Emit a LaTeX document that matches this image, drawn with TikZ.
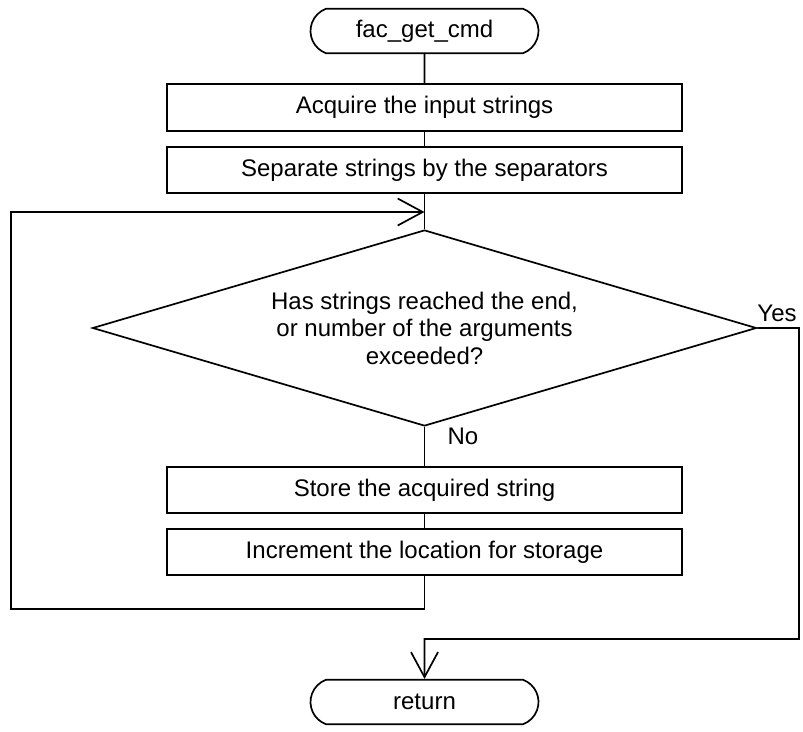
\documentclass[tikz,border=0pt]{standalone}
\usepackage{fontspec}
\setmainfont{Liberation Sans}
\usetikzlibrary{shapes.geometric,shapes.misc,arrows.meta}
\tikzstyle{process} = [draw,rectangle,align=center,inner sep=0,minimum width=515,minimum height=46.5]
\tikzstyle{terminal} = [draw,rounded rectangle,rounded rectangle arc length=140,inner sep=0,minimum width=228,minimum height=44.5]
\tikzstyle{decision} = [draw,diamond,align=center,aspect=3.39,inner sep=0,minimum width=664,minimum height=196]
\tikzstyle{arrow} = [-{Straight Barb[length=25pt,width=27pt]}]

\begin{document}
\begin{tikzpicture}[x=1pt,y=-1pt,line width=1.7pt,font=\fontsize{24}{27.5}\selectfont]
    \useasboundingbox (0,0) rectangle (803,731);
    \node [terminal] (start) at (424.5,31) {fac\_get\_cmd};
    \node [process] (acq) at (424.5,107.5) {Acquire the input strings};
    \node [process] (sep) at (424.5,170) {Separate strings by the separators};
    \node [decision] (chk) at (424.5,328) {Has strings reached the end,\\or number of the arguments\\exceeded?};
    \node [process] (store) at (424.5,490) {Store the acquired string};
    \node [process] (incr) at (424.5,552) {Increment the location for storage};
    \node [terminal] (ret) at (424.5,702) {return};
    \node (yes) at (777,313) {Yes};
    \node (no) at (463,436) {No};
    \coordinate (join) at (424.5,212);
    \coordinate (v1) at (424.5,609);
    \coordinate (v2) at (11,609);
    \coordinate (v3) at (11,212);
    \coordinate (w1) at (799,328);
    \coordinate (w2) at (799,639);
    \coordinate (w3) at (424.5,639);
    \draw (start) -- (acq);
    \draw (acq) -- (sep);
    \draw (sep) -- (chk);
    \draw (chk) -- (store);
    \draw (store) -- (incr);
    \draw [arrow] (incr) -- (v1) -- (v2) -- (v3) -- (join);
    \draw [arrow] (chk.east) -- (w1) -- (w2) -- (w3) -- (ret);
  \end{tikzpicture}
\end{document}
